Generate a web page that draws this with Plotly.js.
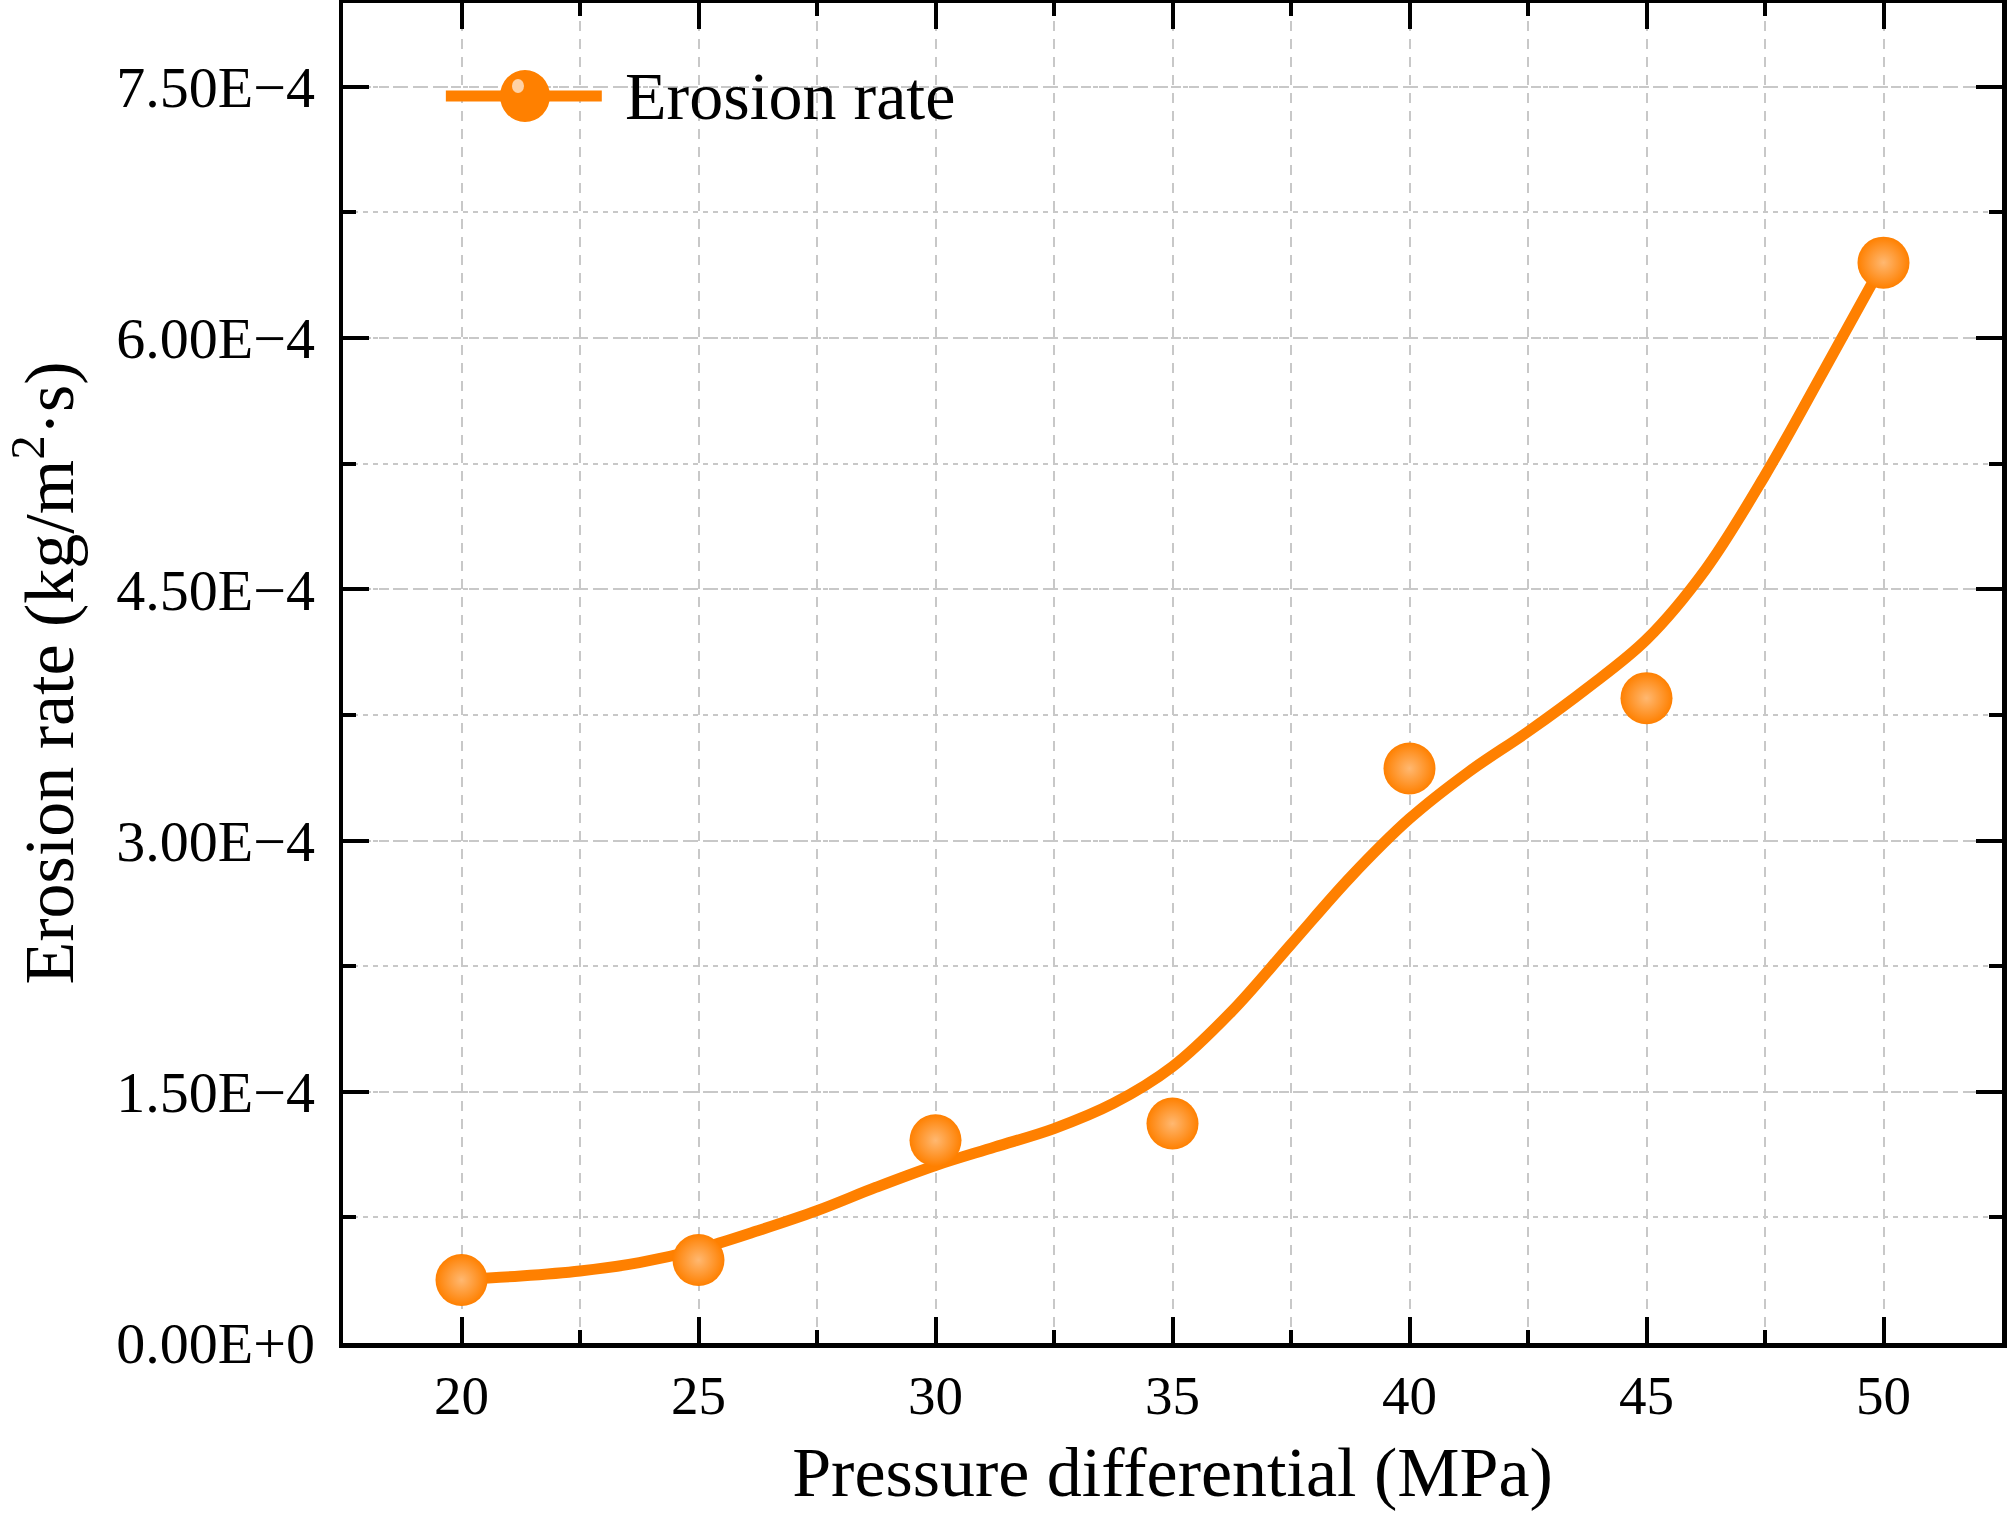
<!DOCTYPE html>
<html>
<head>
<meta charset="utf-8">
<script src="https://cdn.plot.ly/plotly-3.0.1.min.js"></script>
<style>
  html, body { margin: 0; padding: 0; background: #fff; }
  #myPlot { width: 2008px; height: 1517px; }
</style>
</head>
<body>
<div id="myPlot"></div>
<script>
// measured points
let pressure = [20, 25, 30, 35, 40, 45, 50];
let erosion = [0.376e-4, 0.495e-4, 1.21e-4, 1.31e-4, 3.43e-4, 3.85e-4, 6.45e-4];

// smooth curve, every 1.25 MPa
let curveX = [20, 21.25, 22.5, 23.75, 25, 26.25, 27.5, 28.75, 30, 31.25, 32.5, 33.75, 35,
              36.25, 37.5, 38.75, 40, 41.25, 42.5, 43.75, 45, 46.25, 47.5, 48.75, 50];
let curveY = [0.38e-4, 0.40e-4, 0.43e-4, 0.48e-4, 0.56e-4, 0.67e-4, 0.79e-4, 0.93e-4, 1.06e-4,
              1.17e-4, 1.28e-4, 1.43e-4, 1.65e-4, 1.98e-4, 2.38e-4, 2.78e-4, 3.13e-4, 3.41e-4,
              3.65e-4, 3.91e-4, 4.20e-4, 4.62e-4, 5.18e-4, 5.81e-4, 6.45e-4];

let yTickVals = [0, 1.5e-4, 3.0e-4, 4.5e-4, 6.0e-4, 7.5e-4];
let yTickText = ['0.00E+0', '1.50E\u22124', '3.00E\u22124', '4.50E\u22124', '6.00E\u22124', '7.50E\u22124'];

let orange = '#ff8000';
let serif = 'Liberation Serif, Times New Roman, serif';
let grid = '#c8c8c8';

var fit = {
  x: curveX,
  y: curveY,
  mode: 'lines',
  line: { color: orange, width: 11, shape: 'spline', smoothing: 1 },
  hoverinfo: 'skip',
  showlegend: false
};

var pts = {
  x: pressure,
  y: erosion,
  mode: 'markers',
  name: 'Erosion rate',
  marker: {
    color: orange,
    size: 52,
    gradient: { type: 'radial', color: '#ffb871' },
    line: { width: 0 }
  },
  showlegend: false
};

var axisCommon = {
  showline: true,
  linecolor: '#000',
  linewidth: 4.5,
  mirror: 'ticks',
  ticks: 'inside',
  ticklen: 26,
  tickwidth: 4,
  tickcolor: '#000',
  showgrid: true,
  gridcolor: grid,
  gridwidth: 2,
  griddash: '10px,8px',
  zeroline: false,
  tickfont: { family: serif, size: 55, color: '#000' }
};

var layout = {
  width: 2008,
  height: 1517,
  margin: { l: 343, r: 6, t: 3, b: 174 },
  paper_bgcolor: '#fff',
  plot_bgcolor: '#fff',
  showlegend: false,
  xaxis: Object.assign({}, axisCommon, {
    range: [17.5, 52.5],
    tickmode: 'linear',
    tick0: 20,
    dtick: 5,
    minor: {
      tick0: 17.5, dtick: 2.5, ticks: 'inside', ticklen: 13, tickwidth: 4, tickcolor: '#000',
      showgrid: true, gridcolor: grid, gridwidth: 2, griddash: '10px,8px'
    },
    title: {
      text: 'Pressure differential (MPa)',
      font: { family: serif, size: 70, color: '#000' },
      standoff: 24
    }
  }),
  yaxis: Object.assign({}, axisCommon, {
    range: [0, 8e-4],
    tickmode: 'array',
    tickvals: yTickVals,
    ticktext: yTickText,
    tickfont: { family: serif, size: 58, color: '#000' },
    ticklabelstandoff: 12,
    minor: {
      tickmode: 'linear', tick0: 0, dtick: 0.75e-4, ticks: 'inside', ticklen: 13, tickwidth: 4, tickcolor: '#000',
      showgrid: true, gridcolor: grid, gridwidth: 2, griddash: '5px,5px'
    },
    title: {
      text: 'Erosion rate (kg/m<sup>2</sup>\u00b7s)',
      font: { family: serif, size: 70, color: '#000' },
      standoff: 40
    }
  }),
  // hand-drawn legend so the glyph keeps the big marker
  shapes: [
    { type: 'line', xref: 'paper', yref: 'paper', x0: 0.062, x1: 0.156, y0: 0.9306, y1: 0.9306,
      line: { color: orange, width: 11 } },
    { type: 'circle', xref: 'paper', yref: 'paper', xsizemode: 'pixel', ysizemode: 'pixel',
      xanchor: 0.1097, yanchor: 0.9306, x0: -25, x1: 25, y0: -26, y1: 26,
      fillcolor: orange, line: { width: 0 } },
    { type: 'circle', xref: 'paper', yref: 'paper', xsizemode: 'pixel', ysizemode: 'pixel',
      xanchor: 0.1097, yanchor: 0.9306, x0: -13, x1: -1, y0: 3, y1: 17,
      fillcolor: '#ffd2a6', line: { width: 0 } }
  ],
  annotations: [
    { xref: 'paper', yref: 'paper', x: 0.169, y: 0.9306, xanchor: 'left', yanchor: 'middle',
      text: 'Erosion rate', showarrow: false,
      font: { family: serif, size: 68, color: '#000' } }
  ]
};

Plotly.newPlot('myPlot', [fit, pts], layout, { displayModeBar: false, staticPlot: true });
</script>
</body>
</html>
